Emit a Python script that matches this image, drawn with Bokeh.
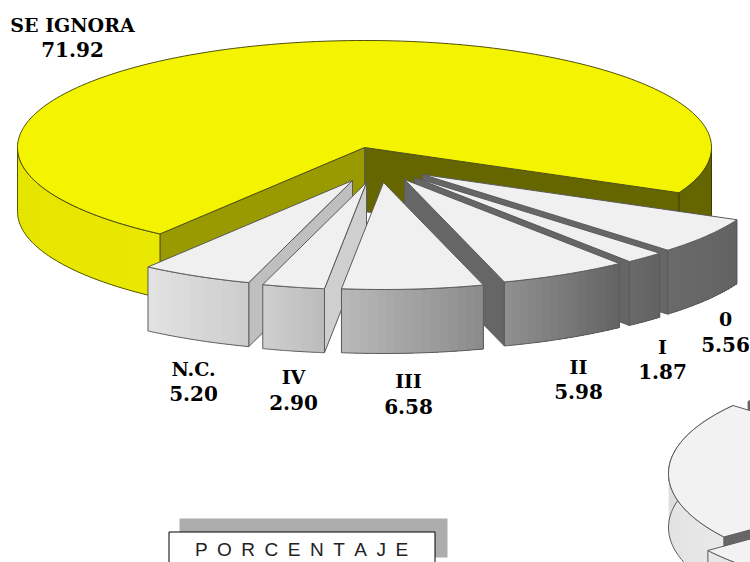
import math
from bokeh.plotting import figure
from bokeh.models import Range1d
from bokeh.core.properties import value
from bokeh.embed import file_html
from bokeh.resources import INLINE

# ---- chart data ----
categories = ["0", "I", "II", "III", "IV", "N.C.", "SE IGNORA"]
percentages = [5.56, 1.87, 5.98, 6.58, 2.90, 5.20, 71.92]
box_title = "P\u2002O\u2002R\u2002C\u2002E\u2002N\u2002T\u2002A\u2002J\u2002E"

# ---- layout and style ----
CX, CY, RX, RY, DEPTH = 364, 147, 347, 107, 64
START = 25.0
OFFSETS = [(58, 27), (50, 30), (40, 32), (19, 35), (2, 35), (-12, 33), (0, 0)]
SIDE_GRAD = [("#6a6a6a", "#626262"), ("#6a6a6a", "#626262"), ("#8f8f8f", "#646464"),
             ("#b8b8b8", "#8c8c8c"), ("#cfcfcf", "#bcbcbc"), ("#e2e2e2", "#cdcdcd")]
WALL = ["#666666", "#666666", "#666666", None, "#cfcfcf", "#bfbfbf"]
DRAW_ORDER = [0, 1, 2, 5, 4, 3]
LABEL_POS = [(725, 318, 344), (662, 346, 371), (578, 366, 391), (408, 380, 406),
             (293, 376, 402), (193, 368, 393), (72, 24, 49)]
EDGE = "#5a5a5a"
TOP = "#f0f0f0"
YELLOW = "#f4f400"

p = figure(width=750, height=562, output_backend="svg", toolbar_location=None,
           x_range=Range1d(0, 750), y_range=Range1d(562, 0), min_border=0)
p.xaxis.visible = False
p.yaxis.visible = False
p.grid.visible = False
p.outline_line_color = None


def lerp(c0, c1, t):
    a = [int(c0[i:i + 2], 16) for i in (1, 3, 5)]
    b = [int(c1[i:i + 2], 16) for i in (1, 3, 5)]
    return "#%02x%02x%02x" % tuple(round(u + (v - u) * t) for u, v in zip(a, b))


def arc(cx, cy, rx, ry, t0, t1, n=60):
    ts = [math.radians(t0 + (t1 - t0) * i / n) for i in range(n + 1)]
    return [cx + rx * math.cos(t) for t in ts], [cy + ry * math.sin(t) for t in ts]


def poly(xs, ys, fill, line=EDGE, w=1.0):
    p.patch(xs, ys, fill_color=fill, line_color=line if line else fill, line_width=w)


def side(cx, cy, rx, ry, depth, t0, t1, c0, c1, n=16, line=EDGE):
    # left-to-right shading: each band is painted over the previous one up to the far end
    xs, ys = arc(cx, cy, rx, ry, t0, t1, 64)
    if xs[0] > xs[-1]:
        xs, ys = xs[::-1], ys[::-1]
    qx, qy, cols = [], [], []
    for i in range(n):
        j = i * 64 // n
        cols.append(lerp(c0, c1, i / max(n - 1, 1)))
        qx.append(xs[j:] + xs[j:][::-1])
        qy.append(ys[j:] + [y + depth for y in ys[j:][::-1]])
    p.patches(qx, qy, fill_color=cols, line_color=None)
    if line:
        p.patch(xs + xs[::-1], ys + [y + depth for y in ys[::-1]],
                fill_color=None, line_color=line, line_width=1)


def wall(cx, cy, rx, ry, depth, t, fill):
    ex = cx + rx * math.cos(math.radians(t))
    ey = cy + ry * math.sin(math.radians(t))
    poly([cx, ex, ex, cx], [cy, ey, ey + depth, cy + depth], fill)


# angular spans from the values
total = sum(percentages)
spans = []
ang = START
for v in percentages:
    spans.append((ang, ang + v / total * 360))
    ang += v / total * 360

# yellow slice
y0, y1 = spans[6]
wall(CX, CY, RX, RY, DEPTH, y1 - 360, "#666600")
wall(CX, CY, RX, RY, DEPTH, y0, "#999900")
side(CX, CY, RX, RY, DEPTH, y0, 180, "#e4e400", "#e8e800", line="#55550a")
side(CX, CY, RX, RY, DEPTH, 0, y1 - 360, "#666600", "#666600", line="#3c3c00")
tx, ty = arc(CX, CY, RX, RY, y0, y1, 200)
poly([CX] + tx, [CY] + ty, YELLOW, line="#50500a")

# exploded slices
for k in DRAW_ORDER:
    t0, t1 = spans[k]
    dx, dy = OFFSETS[k]
    ax, ay = CX + dx, CY + dy
    if WALL[k]:
        wall(ax, ay, RX, RY, DEPTH, t1 if t1 < 90 else t0, WALL[k])
    side(ax, ay, RX, RY, DEPTH, t0, t1, SIDE_GRAD[k][0], SIDE_GRAD[k][1])
    xs, ys = arc(ax, ay, RX, RY, t0, t1)
    poly([ax] + xs, [ay] + ys, TOP)

# second pie, cut off by the page edge
P2X, P2Y, P2RX, P2RY, P2D = 958, 473, 290, 108, 54
A_TOP, A_BOT, A_LOW, A_UP = 219.0, 144.0, 115.0, 240.0
bx, by = P2X + 15, P2Y - 4
side(bx, by, P2RX, P2RY, P2D, A_TOP, A_UP, "#666666", "#666666")
xs, ys = arc(bx, by, P2RX, P2RY, A_TOP, A_UP)
poly([bx] + xs, [by] + ys, "#f2f2f2")
wall(P2X, P2Y, P2RX, P2RY, P2D, A_BOT, "#666666")
side(P2X, P2Y, P2RX, P2RY, P2D, A_BOT, A_TOP, "#e8e8e8", "#d8d8d8")
xs, ys = arc(P2X, P2Y, P2RX, P2RY, A_BOT, A_TOP)
poly([P2X] + xs, [P2Y] + ys, "#f2f2f2")
cx2, cy2 = P2X - 16, P2Y + 13.5
side(cx2, cy2, P2RX, P2RY, P2D, A_LOW, A_BOT, "#e8e8e8", "#d8d8d8")
xs, ys = arc(cx2, cy2, P2RX, P2RY, A_LOW, A_BOT)
poly([cx2] + xs, [cy2] + ys, "#f2f2f2")

# labels
for name, val, (lx, ly1, ly2) in zip(categories, percentages, LABEL_POS):
    p.text([lx], [ly1], text=[name], text_font=value("DejaVu Serif"), text_font_style="bold",
           text_font_size="19px", text_align="center", text_baseline="middle", text_color="#000000")
    p.text([lx], [ly2], text=[f"{val:.2f}"], text_font=value("DejaVu Serif"), text_font_style="bold",
           text_font_size="20px", text_align="center", text_baseline="middle", text_color="#000000")

# title box
p.quad(left=[179], right=[447], top=[518], bottom=[557], fill_color="#adadad", line_color=None)
p.quad(left=[168.5], right=[434.5], top=[531.5], bottom=[580], fill_color="#ffffff",
       line_color="#000000", line_width=1)
p.text([301], [549], text=[box_title], text_font=value("Liberation Sans"), text_font_size="19px",
       text_align="center", text_baseline="middle", text_color="#222222")

open("out.html", "w").write(file_html(p, INLINE))
